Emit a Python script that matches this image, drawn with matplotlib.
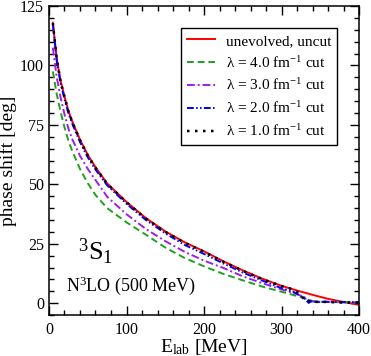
import numpy as np
import matplotlib.pyplot as plt
from matplotlib.ticker import MultipleLocator

# lab energies [MeV] and phase shifts [deg]
E_red = [5, 10, 15, 20, 25, 30, 40, 50, 60, 75, 100, 125, 150, 175, 200, 225, 250, 275, 300, 320, 340, 360, 380, 400]
uncut = [118.0, 103.0, 93.5, 87.0, 81.0, 76.5, 68.8, 62.4, 57.2, 50.4, 42.6, 35.8, 30.2, 25.6, 21.8, 17.6, 13.8, 10.3, 7.3, 5.3, 3.5, 1.8, 0.5, -0.7]

E_l4 = [5, 10, 15, 20, 25, 30, 40, 50, 60, 75, 100, 125, 150, 175, 200, 225, 250, 275, 300, 320, 330, 340, 350, 375, 400]
lam4 = [97.5, 88.0, 80.5, 74.0, 68.5, 64.0, 56.5, 50.5, 45.5, 40.0, 34.0, 28.8, 23.4, 19.0, 15.5, 12.3, 9.6, 7.0, 4.8, 3.0, 2.0, 0.9, 0.6, 0.4, 0.3]

E_l3 = [5, 10, 15, 20, 25, 30, 40, 50, 60, 75, 100, 125, 150, 175, 200, 225, 250, 275, 300, 320, 330, 335, 340, 350, 375, 400]
lam3 = [107.5, 95.0, 86.5, 79.5, 73.5, 69.0, 62.0, 56.5, 51.8, 44.8, 37.4, 31.2, 26.1, 21.6, 17.9, 14.8, 11.3, 8.4, 5.8, 3.8, 2.4, 1.2, 0.7, 0.6, 0.4, 0.3]

E_l2 = [5, 10, 15, 20, 25, 30, 40, 50, 60, 75, 100, 125, 150, 175, 200, 225, 250, 275, 300, 315, 325, 330, 335, 338, 345, 360, 375, 400]
lam2 = [117.5, 102.0, 92.5, 86.0, 80.0, 75.5, 67.8, 61.4, 56.2, 49.6, 41.8, 35.0, 29.4, 24.5, 20.7, 16.7, 12.9, 9.5, 6.3, 4.8, 3.0, 1.8, 0.1, 0.8, 0.4, 0.6, 0.5, 0.4]

E_l1 = [5, 10, 15, 20, 25, 30, 40, 50, 60, 75, 100, 125, 150, 175, 200, 225, 250, 275, 300, 310, 320, 330, 333, 336, 340, 350, 375, 400]
lam1 = [117.8, 102.8, 93.3, 86.8, 80.8, 76.3, 68.6, 62.2, 57.0, 50.2, 42.4, 35.6, 30.0, 25.4, 21.6, 17.4, 13.6, 10.1, 7.2, 6.3, 4.8, 1.5, 0.6, 1.0, 0.5, 0.6, 0.3, 0.1]

labels = ["unevolved, uncut",
          "λ = 4.0 fm$^{-1}$ cut",
          "λ = 3.0 fm$^{-1}$ cut",
          "λ = 2.0 fm$^{-1}$ cut",
          "λ = 1.0 fm$^{-1}$ cut"]

plt.rcParams['font.family'] = ['Liberation Serif', 'DejaVu Serif']
plt.rcParams['mathtext.fontset'] = 'custom'
plt.rcParams['mathtext.rm'] = 'Liberation Serif'
plt.rcParams['mathtext.it'] = 'Liberation Serif:italic'

fig = plt.figure(figsize=(3.71, 3.56), dpi=100)
ax = fig.add_axes([0.132, 0.115, 0.836, 0.868])

lw = 1.4
ax.plot(E_red, uncut, color='#ff0000', lw=lw, label=labels[0], zorder=2)
ax.plot(E_l4, lam4, color='#1fa01f', lw=lw, dashes=(3.5, 2), label=labels[1])
ax.plot(E_l3, lam3, color='#9b1fe8', lw=lw, dashes=(4, 1.5, 1, 1.5), label=labels[2])
ax.plot(E_l2, lam2, color='#0000ff', lw=lw, dashes=(3.5, 1.2, 0.8, 1.2, 0.8, 1.2), label=labels[3])
ax.plot(E_l1, lam1, color='black', lw=lw + 0.4, dashes=(1, 2.2), label=labels[4], zorder=4)

ax.set_xlim(0, 400)
ax.set_ylim(-5, 125)
ax.xaxis.set_major_locator(MultipleLocator(100))
ax.xaxis.set_minor_locator(MultipleLocator(20))
ax.yaxis.set_major_locator(MultipleLocator(25))
ax.yaxis.set_minor_locator(MultipleLocator(5))
ax.tick_params(which='both', direction='in', top=True, right=True, labelsize=11.5, width=1)
ax.tick_params(which='major', length=6.5)
ax.tick_params(which='minor', length=3.5)
ax.tick_params(axis='x', pad=5)
for s in ax.spines.values():
    s.set_linewidth(1.1)

ax.set_xlabel("E$_{\\rm lab}$ [MeV]", fontsize=14, labelpad=-1)
ax.set_ylabel("phase shift [deg]", fontsize=14, labelpad=2)

ax.text(37, 18, "$^3$S$_1$", fontsize=19)
ax.text(22, 5, "N$^3$LO (500 MeV)", fontsize=13)

leg = ax.legend(loc='upper right', bbox_to_anchor=(0.929, 0.929), fontsize=11,
                handlelength=1.8, handletextpad=0.7, labelspacing=0.45,
                borderpad=0.4, borderaxespad=0, fancybox=False, framealpha=1,
                edgecolor='black')
leg.get_frame().set_linewidth(1.0)

fig.savefig("out.png", dpi=100)
